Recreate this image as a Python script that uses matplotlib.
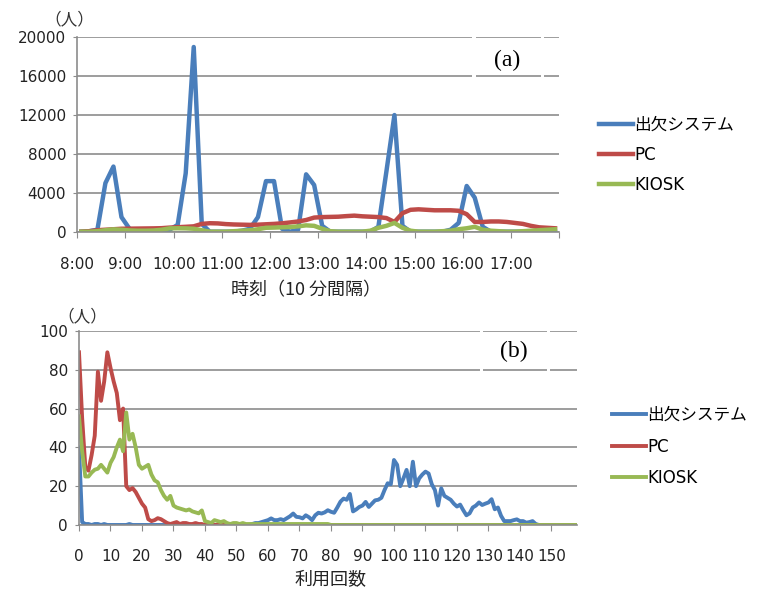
import matplotlib
matplotlib.use("Agg")
import matplotlib.pyplot as plt
from matplotlib.patches import Rectangle
import numpy as np

plt.rcParams["font.family"] = ["DejaVu Sans", "Noto Sans CJK JP"]
CJK = ["Noto Sans CJK JP", "DejaVu Sans"]

# (a) 10-minute slots, 8:00 .. 17:50
time_labels = ["8:00", "9:00", "10:00", "11:00", "12:00", "13:00",
               "14:00", "15:00", "16:00", "17:00", ""]
a_attend = [0, 50, 200, 5000, 6700, 1500, 300, 0, 0, 0,
            0, 200, 700, 6000, 19000, 800, 0, 0, 0, 0,
            100, 300, 1500, 5200, 5200, 300, 0, 200, 5900, 4800,
            600, 0, 0, 0, 0, 0, 0, 500, 6200, 12000,
            600, 0, 0, 0, 0, 0, 200, 900, 4700, 3500,
            500, 0, 0, 0, 0, 0, 0, 0, 0, 0]
a_pc = [0, 50, 150, 200, 250, 300, 310, 320, 330, 340,
        360, 420, 460, 500, 550, 800, 870, 850, 780, 740,
        720, 700, 720, 760, 800, 860, 950, 1050, 1200, 1450,
        1500, 1520, 1540, 1600, 1650, 1580, 1540, 1500, 1400, 1000,
        1900, 2250, 2300, 2250, 2200, 2200, 2200, 2150, 1800, 1000,
        1000, 1050, 1050, 1000, 900, 800, 600, 450, 400, 350]
a_kiosk = [0, 0, 50, 150, 240, 200, 130, 100, 100, 120,
           200, 340, 350, 340, 300, 150, 0, 0, 0, 50,
           100, 150, 250, 400, 420, 450, 480, 550, 650, 600,
           300, 50, 0, 0, 0, 0, 100, 400, 600, 900,
           400, 100, 0, 0, 0, 50, 100, 250, 350, 500,
           200, 100, 50, 0, 0, 50, 100, 150, 200, 250]

# (b) usage count 0 .. 158
b_attend = [40, 1.5, 0.5, 0.5, 0, 0.5, 0.5, 0, 0.5, 0,
            0, 0, 0, 0, 0, 0, 0.5, 0, 0, 0,
            0, 0, 0, 0, 0, 0, 0, 0, 0, 0,
            0, 0, 0, 0, 0, 0, 0, 0, 0, 0,
            0, 0, 0, 0, 0, 0, 0, 0, 0, 0,
            0, 0, 0, 0, 0, 0.5, 1, 1, 1.5, 2,
            2.5, 3.4, 2.5, 2.5, 3, 2.5, 3.5, 4.5, 5.9, 4.2,
            4, 3.4, 5, 4, 2.5, 5, 6.3, 5.9, 6.5, 7.6,
            6.8, 6.3, 9, 12, 13.6, 13, 16, 7, 8, 9.3,
            10, 11.9, 9.3, 11, 12.7, 13, 14, 18, 21.5, 21,
            33.5, 31, 20, 24, 28.4, 20, 32.6, 20, 24, 26,
            27.5, 26.5, 21, 18, 10, 18.9, 15, 14, 13, 11,
            9.5, 10.5, 7.6, 5, 6, 9, 10, 11.6, 10.3, 11,
            11.6, 13.3, 8.1, 9, 4.7, 2, 2, 2, 2.5, 2.9,
            2, 2, 1.2, 1.5, 2, 0.5, 0, 0, 0, 0,
            0, 0, 0, 0, 0, 0, 0, 0, 0]
b_pc = [89, 55, 30, 28, 36, 46, 79, 64, 74, 89,
        81, 74, 68, 54, 60, 20, 18, 19, 17, 14,
        11, 9, 3, 2, 2.5, 3.5, 3, 2, 1, 0.5,
        1, 1.5, 0.5, 1, 1, 0.5, 0.5, 1, 0.5, 0.5] + [0] * 119
b_kiosk = [56, 38, 25, 25, 27, 28.5, 29, 31, 29, 27,
           32, 35, 40, 44, 38, 58, 44, 47, 40, 31,
           29, 30, 31, 26, 23, 22, 18, 15, 13, 15,
           10, 9, 8.5, 8, 7.5, 8, 7, 6.5, 6, 7.5,
           2, 1.5, 1, 2.5, 2, 1.5, 2, 1, 0.5, 1,
           1, 0.5, 1, 0.5, 0.5, 0.5, 0.5, 0.5, 0.5, 0.5,
           0.5, 0.5, 0.5, 0.5, 0.5, 0.5, 0.5, 0.5, 0.5, 0.5,
           0.5, 0.5, 0.5, 0.5, 0.5, 0.5, 0.5, 0.5, 0.5, 0.5] + [0] * 79

series_names = ["出欠システム", "PC", "KIOSK"]
colors = ["#4a7ebb", "#be4b48", "#98b954"]
grid_col = "#8c8c8c"


def style_axes(ax):
    ax.set_axisbelow(True)
    ax.yaxis.grid(True, color=grid_col, lw=1.2)
    for s in ["top", "right"]:
        ax.spines[s].set_visible(False)
    for s in ["left", "bottom"]:
        ax.spines[s].set_color(grid_col)
        ax.spines[s].set_linewidth(1.2)
    ax.tick_params(axis="y", length=3, color=grid_col, labelsize=11, pad=5,
                   labelcolor="#222222")


fig = plt.figure(figsize=(7.64, 5.91), dpi=100)

# ---- (a)
ax1 = fig.add_axes([0.1012, 0.608, 0.6305, 0.3289])
style_axes(ax1)
xa = np.arange(len(a_attend))
for vals, name, c in zip([a_attend, a_pc, a_kiosk], series_names, colors):
    ax1.plot(xa, vals, color=c, lw=3.2, label=name, solid_joinstyle="round")
ax1.set_xlim(-0.5, len(a_attend) - 0.5)
ax1.set_ylim(0, 20000)
ax1.set_yticks(np.arange(0, 20001, 4000))
ax1.set_xticks(np.arange(-0.5, len(a_attend), 6))
ax1.set_xticklabels(time_labels)
ax1.tick_params(axis="x", length=4, color=grid_col, labelsize=11, pad=14,
                labelcolor="#222222")
ax1.legend(loc="center left", bbox_to_anchor=(1.083, 0.395), frameon=False,
           fontsize=12, handlelength=2.05, handletextpad=0.05,
           labelspacing=0.72, borderaxespad=0, borderpad=0)
for x0, w in [(0.819, 0.009), (0.962, 0.006)]:
    ax1.add_patch(Rectangle((x0, 0.78), w, 0.25, transform=ax1.transAxes,
                            facecolor="white", edgecolor="none", zorder=1,
                            clip_on=False))

# ---- (b)
ax2 = fig.add_axes([0.1034, 0.1117, 0.6514, 0.3283])
style_axes(ax2)
xb = np.arange(len(b_attend))
for vals, name, c in zip([b_attend, b_pc, b_kiosk], series_names, colors):
    ax2.plot(xb, vals, color=c, lw=2.8, label=name, solid_joinstyle="round")
ax2.set_xlim(0, len(b_attend) - 1)
ax2.set_ylim(0, 100)
ax2.set_yticks(np.arange(0, 101, 20))
ax2.set_xticks(np.arange(0, 151, 10))
ax2.tick_params(axis="x", length=4, color=grid_col, labelsize=11, pad=13,
                labelcolor="#222222")
ax2.legend(loc="center left", bbox_to_anchor=(1.071, 0.404), frameon=False,
           fontsize=12, handlelength=2.05, handletextpad=0.05,
           labelspacing=0.82, borderaxespad=0, borderpad=0)
for x0, w in [(0.806, 0.006), (0.941, 0.006)]:
    ax2.add_patch(Rectangle((x0, 0.78), w, 0.25, transform=ax2.transAxes,
                            facecolor="white", edgecolor="none", zorder=1,
                            clip_on=False))

# ---- labels
fig.text(0.0903, 0.966, "（人）", fontsize=12, ha="center", va="center",
         color="#333333", family=CJK)
fig.text(0.1073, 0.4636, "（人）", fontsize=12, ha="center", va="center",
         color="#333333", family=CJK)
fig.text(0.4005, 0.509, "時刻（10 分間隔）", fontsize=13, ha="center",
         va="center", color="#222222", family=CJK)
fig.text(0.432, 0.0186, "利用回数", fontsize=13, ha="center", va="center",
         color="#222222", family=CJK)
fig.text(0.6636, 0.8985, "(a)", fontsize=17, ha="center", va="center",
         family="Liberation Serif")
fig.text(0.6728, 0.406, "(b)", fontsize=17, ha="center", va="center",
         family="Liberation Serif")

fig.savefig("out.png", dpi=100, facecolor="white")
